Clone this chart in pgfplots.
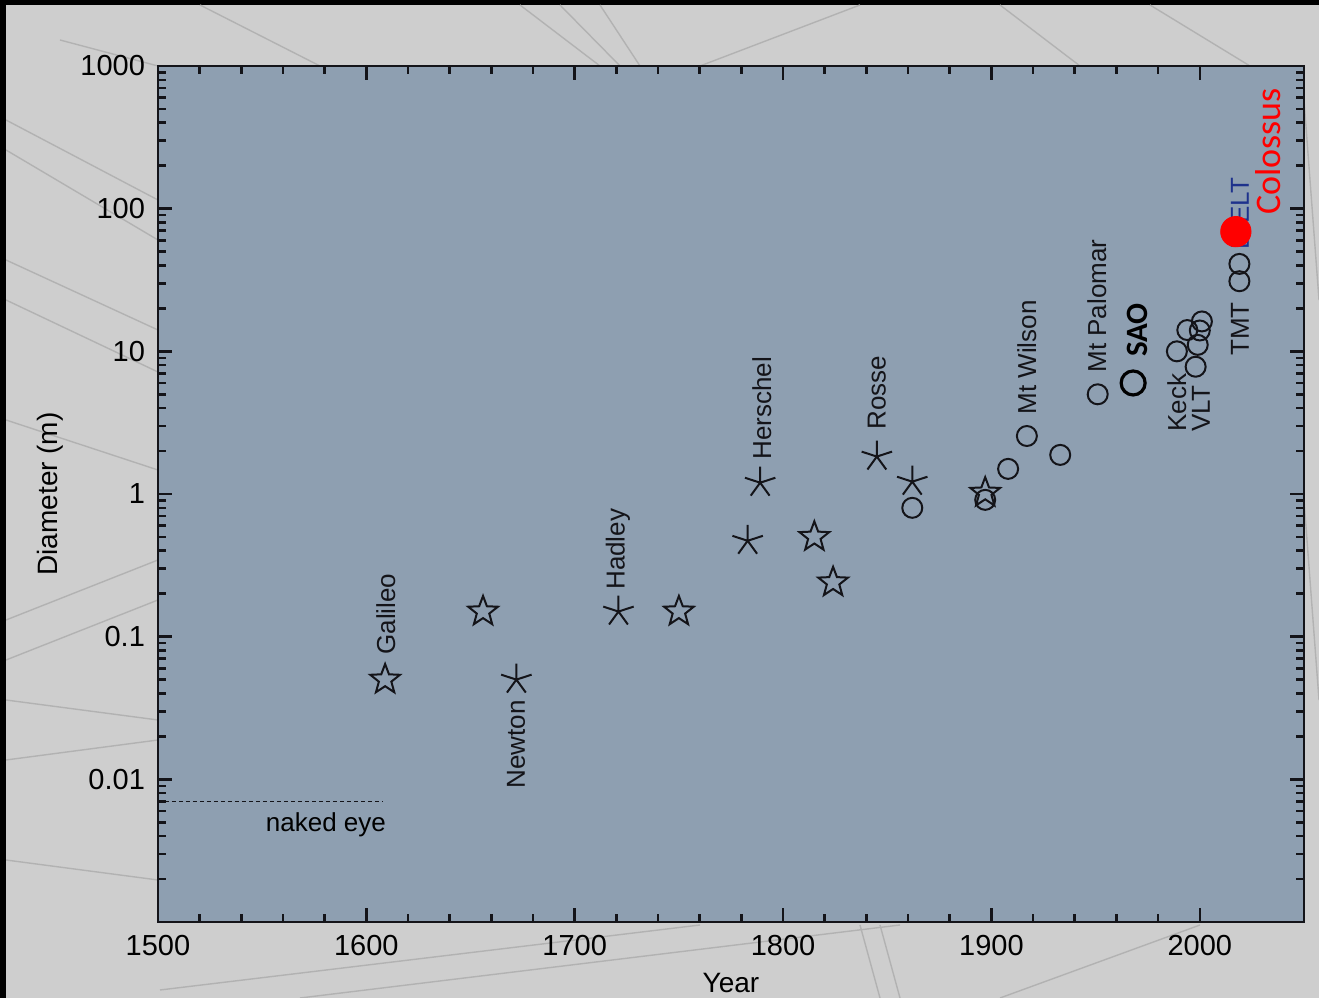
\documentclass[border=0pt]{standalone}
\usepackage{fontspec}
\setmainfont{Liberation Sans}
\newfontfamily\calibri{Carlito}
\usepackage{pgfplots}
\pgfplotsset{compat=1.18}
\definecolor{plotbg}{RGB}{142,159,177}
\definecolor{pagebg}{RGB}{206,206,206}
\definecolor{pageline}{RGB}{178,178,178}
\definecolor{eltblue}{RGB}{30,50,140}
\definecolor{ink}{RGB}{20,20,25}

\pgfdeclareplotmark{ostar}{%
  \pgfpathmoveto{\pgfpointpolar{90}{\pgfplotmarksize}}%
  \pgfpathlineto{\pgfpointpolar{126}{0.42\pgfplotmarksize}}%
  \pgfpathlineto{\pgfpointpolar{162}{\pgfplotmarksize}}%
  \pgfpathlineto{\pgfpointpolar{198}{0.42\pgfplotmarksize}}%
  \pgfpathlineto{\pgfpointpolar{234}{\pgfplotmarksize}}%
  \pgfpathlineto{\pgfpointpolar{270}{0.42\pgfplotmarksize}}%
  \pgfpathlineto{\pgfpointpolar{306}{\pgfplotmarksize}}%
  \pgfpathlineto{\pgfpointpolar{342}{0.42\pgfplotmarksize}}%
  \pgfpathlineto{\pgfpointpolar{18}{\pgfplotmarksize}}%
  \pgfpathlineto{\pgfpointpolar{54}{0.42\pgfplotmarksize}}%
  \pgfpathclose
  \pgfusepathqstroke
}

\begin{document}
\begin{tikzpicture}
\fill[black] (0,0) rectangle (659.5pt,499pt);
\fill[pagebg] (3pt,0) rectangle (659.5pt,496.5pt);
% faint drafting lines of the page background
\begin{scope}[x=0.5pt, y=-0.5pt, shift={(0,499pt)}, pageline, line width=0.7pt]
  \clip (6,5) rectangle (1319,998);
  \draw (6,120) -- (158,200);  \draw (6,150) -- (158,240);
  \draw (6,260) -- (158,330);  \draw (6,300) -- (158,372);
  \draw (6,420) -- (158,470);  \draw (6,620) -- (158,560);
  \draw (6,660) -- (158,600);  \draw (6,700) -- (158,720);
  \draw (6,760) -- (158,740);  \draw (6,860) -- (158,880);
  \draw (160,990) -- (700,925); \draw (300,998) -- (900,925);
  \draw (880,998) -- (860,925); \draw (900,998) -- (880,925);
  \draw (1000,998) -- (1200,925);
  \draw (520,5) -- (600,66);   \draw (560,5) -- (620,66);
  \draw (600,5) -- (640,66);   \draw (860,5) -- (700,66);
  \draw (1000,5) -- (1080,66); \draw (1150,5) -- (1250,66);
  \draw (200,5) -- (320,66);   \draw (60,40) -- (158,66);
  \draw (1304,100) -- (1319,300); \draw (1304,500) -- (1319,700);
\end{scope}
\begin{axis}[
  at={(79pt,38pt)}, anchor=south west,
  scale only axis, width=573pt, height=428pt,
  xmin=1500, xmax=2050,
  ymode=log, ymin=0.001, ymax=1000,
  axis background/.style={fill=plotbg},
  xtick={1500,1600,1700,1800,1900,2000},
  minor x tick num=4,
  ytick={0.001,0.01,0.1,1,10,100,1000},
  yticklabels={,0.01,0.1,1,10,100,1000},
  minor ytick={0.002,0.003,0.004,0.005,0.006,0.007,0.008,0.009,
               0.02,0.03,0.04,0.05,0.06,0.07,0.08,0.09,
               0.2,0.3,0.4,0.5,0.6,0.7,0.8,0.9,
               2,3,4,5,6,7,8,9,
               20,30,40,50,60,70,80,90,
               200,300,400,500,600,700,800,900},
  major tick length=7pt, minor tick length=4pt,
  tick style={line width=1.3pt, ink},
  axis line style={line width=1.3pt, ink},
  /pgf/number format/1000 sep={},
  /pgf/number format/assume math mode=true,
  xticklabel style={font=\fontsize{14.5}{16}\selectfont, yshift=-3pt},
  yticklabel style={font=\fontsize{14.5}{16}\selectfont, xshift=-3pt},
  xlabel={Year}, ylabel={Diameter (m)},
  xlabel style={font=\fontsize{14}{16}\selectfont, at={(axis description cs:0.5,-0.0713)}, anchor=center},
  ylabel style={font=\fontsize{14}{16}\selectfont, at={(axis description cs:-0.094,0.5)}, anchor=center},
  clip=false,
  every node/.append style={text=ink},
]
% naked eye line
\addplot[ink, line width=0.6pt, dash pattern=on 2pt off 1.5pt] coordinates {(1500,0.007) (1608,0.007)};
\node[font=\fontsize{13}{15}\selectfont] at (axis cs:1580.6,0.00479) {naked eye};

% open stars
\addplot[only marks, mark=ostar, mark size=7.8pt, mark options={ink, line width=1pt, line join=miter}] coordinates {
 (1609,0.05) (1656,0.15) (1750,0.15) (1815,0.5) (1824,0.24) (1897,1.02)
};
% asterisks
\addplot[only marks, mark=star, mark size=8pt, mark options={ink, line width=1pt}] coordinates {
 (1672,0.05) (1721,0.15) (1783,0.47) (1789,1.2) (1845,1.83) (1862,1.22)
};
% circles
\addplot[only marks, mark=o, mark size=5pt, mark options={ink, line width=1pt}] coordinates {
 (1862,0.8) (1897,0.91) (1908,1.5) (1917,2.55) (1933,1.88) (1951,5.0)
 (1989,10) (1994,14.1) (1998,7.8) (1999,11.1) (2000,14) (2001,16.2)
 (2019,31) (2019,41)
};
% SAO
\addplot[only marks, mark=o, mark size=6pt, mark options={black, line width=1.6pt}] coordinates {(1968,6.0)};

% labels
\begin{scope}[every node/.style={rotate=90, inner sep=0pt, font=\fontsize{13}{15}\selectfont, text=ink}]
\node[anchor=west] at (axis cs:1609.4,0.0744) {Galileo};
\node[anchor=east] at (axis cs:1671.8,0.036) {Newton};
\node[anchor=west] at (axis cs:1720.7,0.212) {Hadley};
\node[anchor=west] at (axis cs:1789.8,1.73) {Herschel};
\node[anchor=west] at (axis cs:1845,2.81) {Rosse};
\node[anchor=west] at (axis cs:1917,3.58) {Mt Wilson};
\node[anchor=west] at (axis cs:1950.6,7.05) {Mt Palomar};
\node[anchor=west] at (axis cs:1989,2.72) {Keck};
\node[anchor=west] at (axis cs:2000.5,2.72) {VLT};
\node[anchor=west] at (axis cs:2019.2,9.27) {TMT};
\node[anchor=west, text=eltblue] at (axis cs:2019.2,51.4) {E-ELT};
\node[anchor=west, font=\calibri\bfseries\fontsize{15.5}{17}\selectfont, text=black] at (axis cs:1970.3,9.1) {SAO};
\node[anchor=west, font=\calibri\fontsize{18}{20}\selectfont, text=red] at (axis cs:2032.6,90.3) {Colossus};
\end{scope}

% Colossus
\addplot[only marks, mark=*, mark size=7.6pt, mark options={red, draw=red}] coordinates {(2017.3,69)};
\end{axis}
\end{tikzpicture}
\end{document}
